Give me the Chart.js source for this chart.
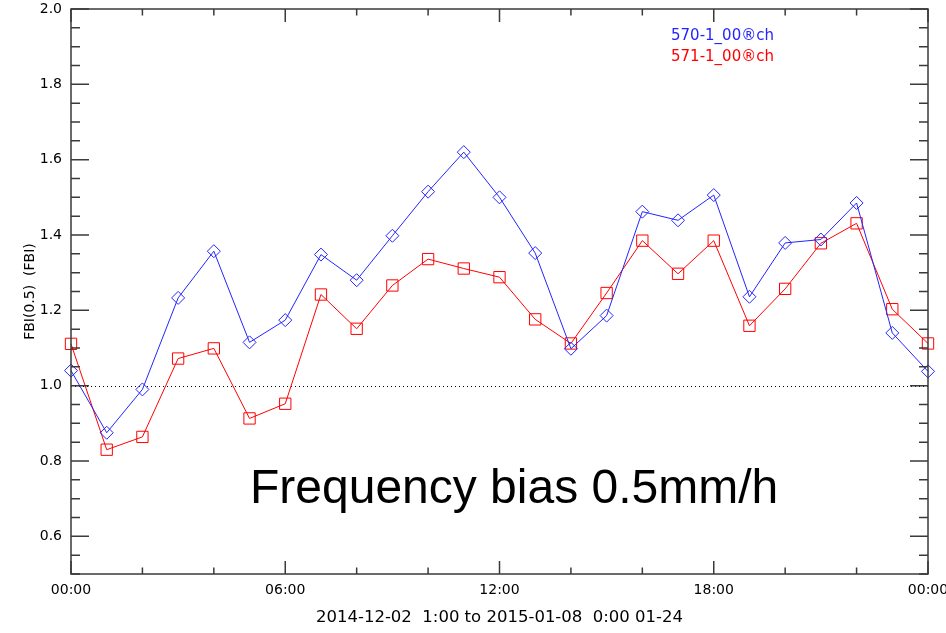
<!DOCTYPE html>
<html><head><meta charset="utf-8">
<script src="https://cdn.jsdelivr.net/npm/chart.js@4/dist/chart.umd.min.js"></script>
<style>html,body{margin:0;padding:0;background:#fff;}#wrap{width:946px;height:633px;}</style>
</head><body><div id="wrap"><canvas id="c" width="946" height="633"></canvas></div>
<script>
const hours = [0,1,2,3,4,5,6,7,8,9,10,11,12,13,14,15,16,17,18,19,20,21,22,23,24];
const series570 = [1.04,0.875,0.99,1.233,1.357,1.115,1.174,1.348,1.28,1.398,1.515,1.62,1.50,1.352,1.098,1.186,1.462,1.439,1.506,1.236,1.379,1.388,1.485,1.14,1.038];
const series571 = [1.111,0.83,0.864,1.072,1.099,0.913,0.952,1.242,1.151,1.266,1.336,1.311,1.288,1.176,1.112,1.246,1.385,1.297,1.385,1.159,1.257,1.378,1.431,1.203,1.112];
const seriesNames = ['570-1_00\u00AEch','571-1_00\u00AEch'];
const xTickHours = [0,6,12,18,24];
const xTickLabels = ['00:00','06:00','12:00','18:00','00:00'];
const yTickValues = [0.6,0.8,1.0,1.2,1.4,1.6,1.8,2.0];
const referenceLevel = 1.0;
const yTitle = 'FBI(0.5)  (FBI)';
const xTitle = '2014-12-02  1:00 to 2015-01-08  0:00 01-24';
const annotationText = 'Frequency bias 0.5mm/h';

const BLUE = '#2424ff', RED = '#ff0000';
const tickFont = {family: 'DejaVu Sans', size: 14};

const framePlugin = {
  id: 'idlFrame',
  beforeDatasetsDraw(chart) {
    const {ctx, chartArea: a, scales: {y}} = chart;
    const py = Math.round(y.getPixelForValue(referenceLevel)) + 0.5;
    ctx.save();
    ctx.strokeStyle = '#000'; ctx.lineWidth = 1; ctx.setLineDash([1,3]);
    ctx.beginPath(); ctx.moveTo(a.left, py); ctx.lineTo(a.right, py); ctx.stroke();
    ctx.restore();
  },
  afterDraw(chart) {
    const {ctx, chartArea: a, scales: {x, y}} = chart;
    ctx.save();
    ctx.strokeStyle = '#3a3a3a'; ctx.lineWidth = 1.5; ctx.setLineDash([]);
    ctx.strokeRect(a.left, a.top, a.right - a.left, a.bottom - a.top);
    ctx.beginPath();
    for (let h = 0; h <= 24; h += 2) {
      const px = x.getPixelForValue(h);
      const len = h % 6 === 0 ? 13 : 6.5;
      ctx.moveTo(px, a.bottom); ctx.lineTo(px, a.bottom - len);
      ctx.moveTo(px, a.top); ctx.lineTo(px, a.top + len);
    }
    for (let k = 0; k <= 30; k++) {
      const v = 0.5 + 0.05 * k;
      const py = y.getPixelForValue(v);
      const major = yTickValues.some(t => Math.abs(t - v) < 1e-6);
      const len = major ? 18 : 9;
      ctx.moveTo(a.left, py); ctx.lineTo(a.left + len, py);
      ctx.moveTo(a.right, py); ctx.lineTo(a.right - len, py);
    }
    ctx.stroke();
    // legend
    ctx.font = '15px "DejaVu Sans"';
    ctx.textBaseline = 'middle'; ctx.textAlign = 'left';
    chart.data.datasets.forEach((ds, i) => {
      ctx.fillStyle = ds.borderColor;
      ctx.fillText(ds.label, 671, 36 + i * 21.5);
    });
    // annotation
    ctx.fillStyle = '#000';
    ctx.font = '48px "Liberation Sans", Arial, sans-serif';
    ctx.textBaseline = 'alphabetic';
    ctx.fillText(annotationText, 250, 503);
    ctx.restore();
  }
};

new Chart(document.getElementById('c'), {
  type: 'line',
  data: {
    labels: hours,
    datasets: [
      {label: seriesNames[0], data: hours.map((h,i)=>({x:h, y:series570[i]})), borderColor: BLUE, borderWidth: 1,
       pointStyle: 'rectRot', pointRadius: 6.5, pointBorderWidth: 1, pointBorderColor: BLUE, pointBackgroundColor: 'rgba(0,0,0,0)', tension: 0, clip: false},
      {label: seriesNames[1], data: hours.map((h,i)=>({x:h, y:series571[i]})), borderColor: RED, borderWidth: 1,
       pointStyle: 'rect', pointRadius: 8, pointBorderWidth: 1, pointBorderColor: RED, pointBackgroundColor: 'rgba(0,0,0,0)', tension: 0, clip: false}
    ]
  },
  options: {
    responsive: false, animation: false, devicePixelRatio: 1,
    layout: {padding: {top: 5, right: 18, bottom: 0, left: 0}},
    plugins: {legend: {display: false}, tooltip: {enabled: false}},
    scales: {
      x: {
        type: 'linear', min: 0, max: 24,
        afterBuildTicks(s) { s.ticks = xTickHours.map(v => ({value: v})); },
        afterFit(s) { s.height = 59; s.paddingLeft = 0; s.paddingRight = 0; },
        ticks: {callback: (v, i) => xTickLabels[i], font: tickFont, color: '#000', padding: 8, maxRotation: 0, autoSkip: false},
        grid: {display: false, drawTicks: false},
        border: {display: false},
        title: {display: true, text: xTitle, font: {family: 'DejaVu Sans', size: 16.5}, color: '#000', padding: {top: 0, bottom: 5}}
      },
      y: {
        type: 'linear', min: 0.5, max: 2.0,
        afterBuildTicks(s) { s.ticks = yTickValues.map(v => ({value: v})); },
        afterFit(s) { s.width = 71; s.paddingTop = 0; s.paddingBottom = 0; },
        ticks: {callback: v => v.toFixed(1), font: tickFont, color: '#000', padding: 9},
        grid: {display: false, drawTicks: false},
        border: {display: false},
        title: {display: true, text: yTitle, font: {family: 'DejaVu Sans', size: 14}, color: '#000', padding: {top: 21.6, bottom: 0}}
      }
    }
  },
  plugins: [framePlugin]
});
</script></body></html>
